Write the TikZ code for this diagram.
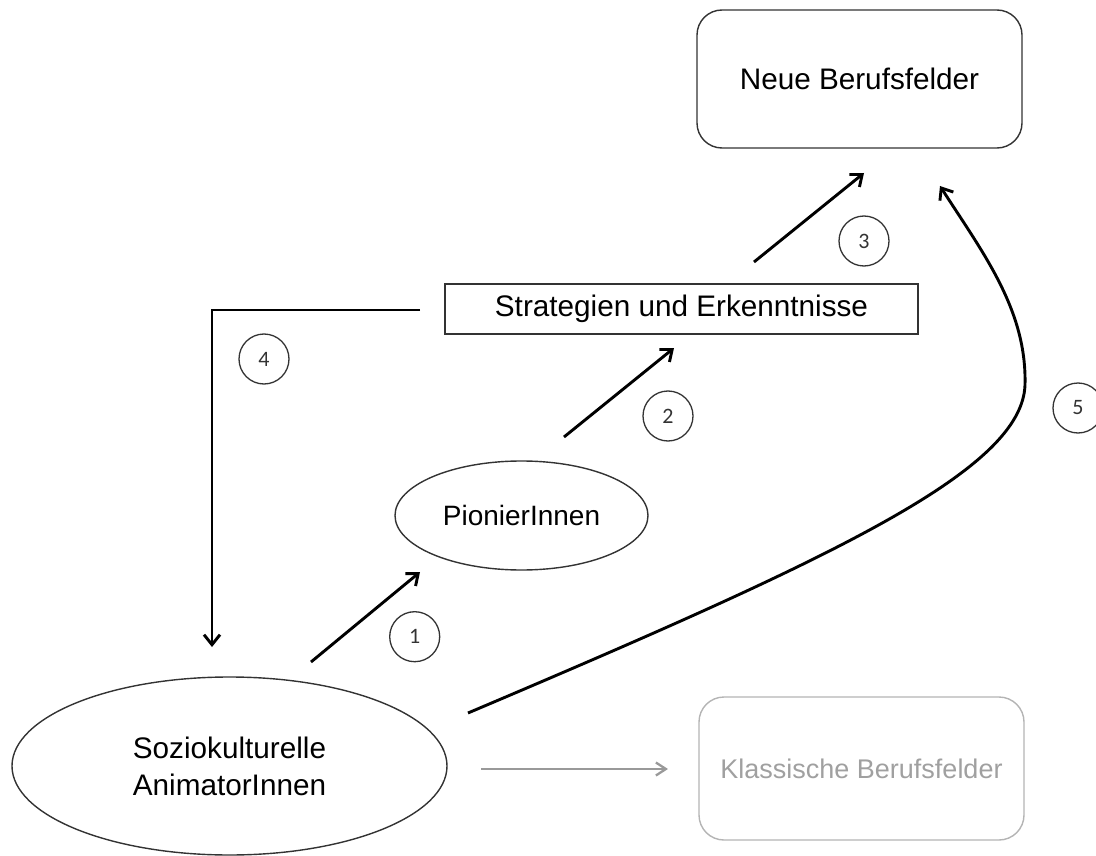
\documentclass[tikz,border=0pt]{standalone}
\usepackage{fontspec}
\setmainfont{Liberation Sans}
\newfontfamily\numfont{Carlito}
\usetikzlibrary{shapes.geometric,arrows.meta}
\definecolor{edge}{HTML}{333333}
\definecolor{greyline}{HTML}{999999}
\definecolor{greybox}{HTML}{B4B4B4}
\definecolor{greytext}{HTML}{A0A0A0}
\newcommand\bigtxt{\fontsize{29.7}{37}\selectfont}
\begin{document}
\begin{tikzpicture}[x=1pt,y=-1pt,
  shapeline/.style={draw=edge,line width=1.4pt,inner sep=0pt,align=center},
  roundbox/.style={shapeline,rounded corners=25pt,minimum width=325pt},
  plainbox/.style={shapeline},
  oval/.style={shapeline,ellipse},
  numcirc/.style={circle,draw=edge,line width=1.3pt,minimum size=50pt,inner sep=0pt,font=\numfont\fontsize{22}{22}\selectfont,text=edge},
  conn/.style={line width=2.9pt,black,-{Straight Barb[length=10pt,width=16pt]}},
  greyconn/.style={line width=2.3pt,greyline,-{Straight Barb[length=10pt,width=13pt]}}]
\useasboundingbox (0,0) rectangle (1096,856);

% nodes
\node[roundbox,minimum height=138pt,font=\bigtxt] (neue) at (859.5,79) {Neue Berufsfelder};
\node[plainbox,minimum width=473pt,minimum height=50pt,font=\bigtxt] (strat) at (681.5,309) {Strategien und Erkenntnisse};
\node[oval,minimum width=253pt,minimum height=109pt,font=\fontsize{28}{34}\selectfont] (pion) at (521.5,515.5) {PionierInnen};
\node[oval,minimum width=435pt,minimum height=178pt,font=\bigtxt] (sozio) at (229.5,766) {Soziokulturelle\\AnimatorInnen};
\node[roundbox,draw=greybox,minimum height=143pt,text=greytext,font=\fontsize{27}{32}\selectfont] (klass) at (861.5,768.5) {Klassische Berufsfelder};

% number circles
\node[numcirc] (n1) at (414.7,636.7) {1};
\node[numcirc] (n2) at (668,416) {2};
\node[numcirc] (n3) at (864,241) {3};
\node[numcirc] (n4) at (264,359) {4};
\node[numcirc] (n5) at (1078,408) {5};

% connector end points
\coordinate (a1s) at (311,662);
\coordinate (a1e) at (420,572);
\coordinate (a2s) at (564,437);
\coordinate (a2e) at (674,348);
\coordinate (a3s) at (754,262);
\coordinate (a3e) at (864,173);
\coordinate (a4s) at (420,310);
\coordinate (a4e) at (212,647);
\coordinate (a5s) at (468,713);
\coordinate (a5m) at (1025,385);
\coordinate (a5e) at (940,186);
\coordinate (gs) at (481,769);
\coordinate (ge) at (668,769);

% connectors
\draw[conn] (a1s) -- (a1e);
\draw[conn] (a2s) -- (a2e);
\draw[conn] (a3s) -- (a3e);
\draw[conn] (a4s) -| (a4e);
\draw[conn] (a5s) .. controls (836,557) and (1022,470) .. (a5m) .. controls (1027,310) and (983,253) .. (a5e);
\draw[greyconn] (gs) -- (ge);
\end{tikzpicture}
\end{document}
